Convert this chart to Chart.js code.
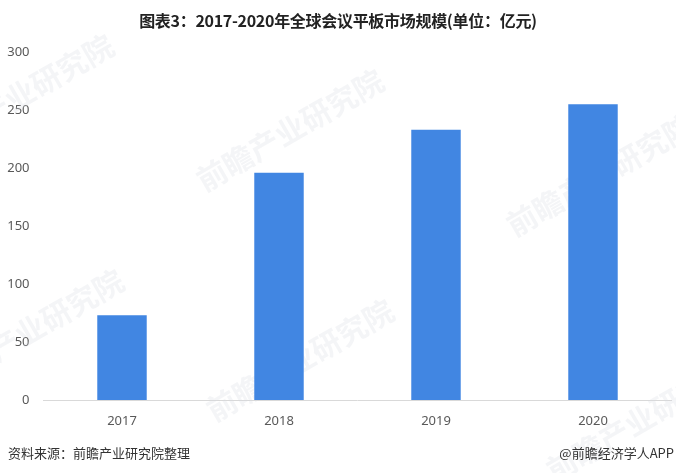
<!DOCTYPE html>
<html>
<head>
<meta charset="utf-8">
<script src="https://cdn.jsdelivr.net/npm/chart.js@4.4.1/dist/chart.umd.min.js"></script>
<style>
  html, body { margin: 0; padding: 0; background: #fff; }
  #wrap { position: relative; width: 676px; height: 473px; overflow: hidden;
          font-family: "Noto Sans CJK SC", "Noto Sans", sans-serif; }
  #title { position: absolute; left: 0; top: 8px; width: 676px; text-align: center;
           font-size: 16px; font-weight: bold; color: #222; letter-spacing: -0.3px; }
  .foot { position: absolute; top: 443px; font-size: 13px; color: #333; }
  #src { left: 8px; }
  #app { right: 2px; }
  canvas { position: absolute; left: 0; top: 0; }
</style>
</head>
<body>
<div id="wrap">
  <canvas id="myChart" width="676" height="473"></canvas>
  <div id="title">图表3：2017-2020年全球会议平板市场规模(单位：亿元)</div>
  <div class="foot" id="src">资料来源：前瞻产业研究院整理</div>
  <div class="foot" id="app">@前瞻经济学人APP</div>
</div>
<script>
const years = ['2017', '2018', '2019', '2020'];
const marketSize = [73, 196, 233, 255];
const yTicks = [0, 50, 100, 150, 200, 250, 300];

// faint diagonal watermark, as in the source image
const watermark = {
  id: 'watermark',
  beforeDatasetsDraw(chart) {
    const ctx = chart.ctx;
    const spots = [[20, 95], [290, 130], [600, 175], [30, 330], [300, 360], [640, 420]];
    ctx.save();
    ctx.fillStyle = 'rgba(215,220,228,0.28)';
    ctx.font = 'bold 30px "Noto Sans CJK SC"';
    ctx.textAlign = 'center';
    ctx.textBaseline = 'middle';
    spots.forEach(([x, y]) => {
      ctx.save();
      ctx.translate(x, y);
      ctx.rotate(-Math.PI / 6);
      ctx.fillText('前瞻产业研究院', 0, 0);
      ctx.restore();
    });
    ctx.restore();
  }
};

new Chart('myChart', {
  type: 'bar',
  data: {
    labels: years,
    datasets: [{
      data: marketSize,
      backgroundColor: '#4186e2',
      categoryPercentage: 1,
      barPercentage: 0.315
    }]
  },
  options: {
    responsive: false,
    animation: false,
    layout: { padding: { top: 52, right: 4.5, left: 0, bottom: 0 } },
    plugins: { legend: { display: false }, tooltip: { enabled: false } },
    scales: {
      x: {
        grid: { display: false, drawTicks: false },
        border: { display: true, color: '#d9d9d9', width: 1 },
        ticks: { padding: 13, color: '#595959', font: { size: 13, family: '"Noto Sans", sans-serif' } },
        afterFit: s => { s.height = 73; }
      },
      y: {
        min: 0,
        max: 300,
        afterBuildTicks: s => { s.ticks = yTicks.map(v => ({ value: v })); },
        grid: { display: false, drawTicks: false },
        border: { display: false },
        ticks: { padding: 14, color: '#595959', font: { size: 13, family: '"Noto Sans", sans-serif' } },
        afterFit: s => { s.width = 43.5; }
      }
    }
  },
  plugins: [watermark]
});
</script>
</body>
</html>
